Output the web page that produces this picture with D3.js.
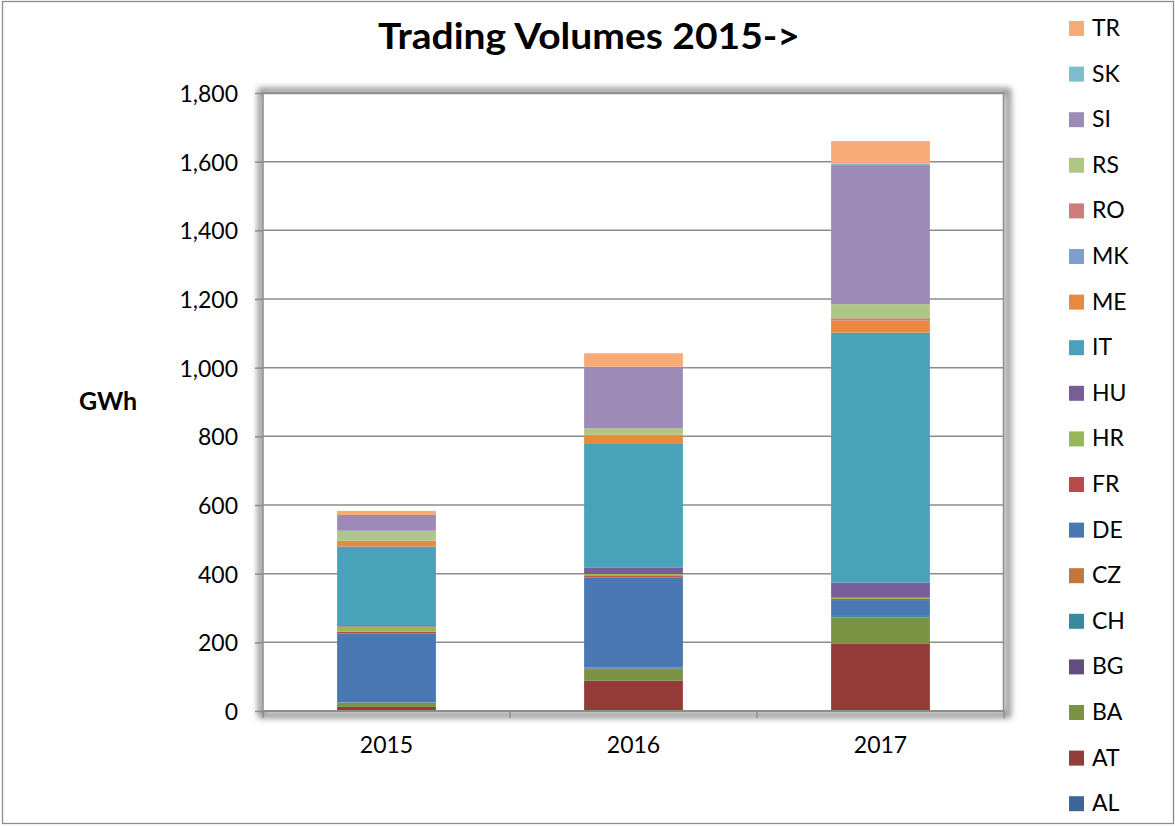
<!DOCTYPE html>
<html>
<head>
<meta charset="utf-8">
<script src="https://cdn.jsdelivr.net/npm/d3@7"></script>
<style>
    body { margin: 0; background: #fff; }
    svg text { font-family: Lato, "Open Sans", sans-serif; fill: #000; }
</style>
</head>
<body>
<svg id="chart"></svg>
<script>
// Categories and series
const years = ['2015', '2016', '2017'];
const countries = ['AL', 'AT', 'BA', 'BG', 'CH', 'CZ', 'DE', 'FR', 'HR', 'HU', 'IT', 'ME', 'MK', 'RO', 'RS', 'SI', 'SK', 'TR'];

// GWh per country, same order as countries
const vol2015 = [0, 12, 12, 0, 1, 0, 201, 5, 15, 4, 229, 17, 0, 0, 29, 46, 0, 12];
const vol2016 = [0, 88, 33, 3, 3, 0, 262, 4, 6, 18, 363, 25, 0, 0, 18, 180, 0, 39];
const vol2017 = [0, 197, 75, 0, 5, 0, 46, 3, 4, 44, 728, 35, 0, 7, 41, 405, 5, 65];

const yTicks = [0, 200, 400, 600, 800, 1000, 1200, 1400, 1600, 1800];

const colors = ['#3e6597', '#953c3a', '#7a9342', '#634c7e', '#388a9e', '#c3763a',
    '#4a78b2', '#ba4a47', '#97b857', '#785e98', '#47a2ba', '#e8893d',
    '#7e9ecb', '#cc7d7c', '#aec785', '#9d8bb7', '#7ebdd0', '#f9ab77'];

class StackedBarChart {
    constructor(_config, _data) {
        this.config = {
            parentElement: _config.parentElement,
            containerWidth: _config.containerWidth || 1175,
            containerHeight: _config.containerHeight || 826,
            margin: _config.margin || {top: 93, right: 171, bottom: 115, left: 263}
        }
        this.data = _data;
        this.initVis();
    }

    initVis() {
        let vis = this;

        vis.width = vis.config.containerWidth - vis.config.margin.left - vis.config.margin.right;
        vis.height = vis.config.containerHeight - vis.config.margin.top - vis.config.margin.bottom;

        vis.xScale = d3.scaleBand()
            .domain(years)
            .range([0, vis.width])
            .paddingInner(0.6)
            .paddingOuter(0.3);

        vis.yScale = d3.scaleLinear()
            .domain([0, 1800])
            .range([vis.height, 0]);

        vis.colorScale = d3.scaleOrdinal()
            .domain(countries)
            .range(colors);

        vis.svg = d3.select(vis.config.parentElement)
            .attr('width', vis.config.containerWidth)
            .attr('height', vis.config.containerHeight);

        // Outer frame
        vis.svg.append('rect')
            .attr('x', 2.5)
            .attr('y', 1.5)
            .attr('width', vis.config.containerWidth - 4)
            .attr('height', vis.config.containerHeight - 4)
            .attr('fill', '#fff')
            .attr('stroke', '#8c8c8c')
            .attr('stroke-width', 1.3);

        // Soft shadow round the plot area
        let defs = vis.svg.append('defs');
        defs.append('filter')
            .attr('id', 'shadow')
            .attr('x', '-10%').attr('y', '-10%')
            .attr('width', '120%').attr('height', '120%')
            .append('feGaussianBlur')
            .attr('stdDeviation', 3);

        vis.chart = vis.svg.append('g')
            .attr('transform', `translate(${vis.config.margin.left},${vis.config.margin.top})`);

        vis.chart.append('rect')
            .attr('x', -2)
            .attr('y', -2)
            .attr('width', vis.width + 6)
            .attr('height', vis.height + 6)
            .attr('fill', 'none')
            .attr('stroke', '#8a8a8a')
            .attr('stroke-width', 6)
            .attr('filter', 'url(#shadow)');

        vis.chart.append('rect')
            .attr('width', vis.width)
            .attr('height', vis.height)
            .attr('fill', '#fff');

        vis.title = vis.svg.append('text')
            .attr('x', 589)
            .attr('y', 49)
            .attr('text-anchor', 'middle')
            .attr('font-size', 37)
            .attr('font-weight', 'bold')
            .attr('textLength', 422)
            .attr('lengthAdjust', 'spacingAndGlyphs')
            .text('Trading Volumes 2015->');

        vis.svg.append('text')
            .attr('x', 79)
            .attr('y', 410)
            .attr('font-size', 25)
            .attr('font-weight', 'bold')
            .text('GWh');

        vis.gridG = vis.chart.append('g').attr('class', 'grid');
        vis.barsG = vis.chart.append('g').attr('class', 'bars');
        vis.yAxisG = vis.chart.append('g').attr('class', 'axis y-axis');
        vis.xAxisG = vis.chart.append('g')
            .attr('class', 'axis x-axis')
            .attr('transform', `translate(0,${vis.height})`);
        vis.legendG = vis.svg.append('g')
            .attr('class', 'legend')
            .attr('transform', 'translate(1069,21)');

        vis.updateVis();
    }

    updateVis() {
        let vis = this;

        vis.stack = d3.stack()
            .keys(countries)
            .value((d, key) => d[key]);

        vis.series = vis.stack(vis.data);

        vis.renderVis();
    }

    renderVis() {
        let vis = this;

        // Gridlines
        vis.gridG.selectAll('.gridline')
            .data(yTicks.slice(1))
            .join('line')
            .attr('class', 'gridline')
            .attr('x1', 0)
            .attr('x2', vis.width)
            .attr('y1', d => vis.yScale(d))
            .attr('y2', d => vis.yScale(d))
            .attr('stroke', '#8c8c8c')
            .attr('stroke-width', 1.5);

        // Stacked bars
        vis.barsG.selectAll('.layer')
            .data(vis.series)
            .join('g')
            .attr('class', 'layer')
            .attr('fill', d => vis.colorScale(d.key))
            .selectAll('rect')
            .data(d => d)
            .join('rect')
            .attr('x', d => vis.xScale(d.data.year))
            .attr('width', vis.xScale.bandwidth())
            .attr('y', d => vis.yScale(d[1]))
            .attr('height', d => vis.yScale(d[0]) - vis.yScale(d[1]));

        // Plot area border (top and right)
        vis.chart.append('path')
            .attr('d', `M0,0.5H${vis.width - 0.5}V${vis.height}`)
            .attr('fill', 'none')
            .attr('stroke', '#8c8c8c')
            .attr('stroke-width', 1.5);

        // Y axis
        vis.yAxis = d3.axisLeft(vis.yScale)
            .tickValues(yTicks)
            .tickSize(8)
            .tickPadding(17)
            .tickFormat(d3.format(','));

        vis.yAxisG.call(vis.yAxis);
        vis.yAxisG.selectAll('line, path').attr('stroke', '#8c8c8c').attr('stroke-width', 1.5);
        vis.yAxisG.select('.domain').attr('d', `M0,0V${vis.height}`);
        vis.yAxisG.selectAll('text')
            .attr('font-size', 23)
            .attr('fill', '#000')
            .attr('dy', '0.37em')
            .style('font-family', 'Lato, sans-serif');

        // X axis, ticks between categories
        vis.xAxis = d3.axisBottom(vis.xScale)
            .tickSize(0)
            .tickPadding(26);

        vis.xAxisG.call(vis.xAxis);
        vis.xAxisG.select('.domain').attr('stroke', '#8c8c8c').attr('stroke-width', 2)
            .attr('d', `M0,0H${vis.width}`);
        vis.xAxisG.selectAll('text')
            .attr('font-size', 23)
            .attr('fill', '#000')
            .style('font-family', 'Lato, sans-serif');

        let step = vis.xScale.step();
        let bounds = years.map(y => vis.xScale(y) - step * vis.xScale.paddingOuter());
        bounds.push(vis.width);
        vis.xAxisG.selectAll('.sep')
            .data(bounds)
            .join('line')
            .attr('class', 'sep')
            .attr('x1', d => d)
            .attr('x2', d => d)
            .attr('y1', 0)
            .attr('y2', 7)
            .attr('stroke', '#8c8c8c')
            .attr('stroke-width', 1.5);

        // Legend, top of stack first
        let legendItems = countries.slice().reverse();
        let row = vis.legendG.selectAll('.legend-item')
            .data(legendItems)
            .join('g')
            .attr('class', 'legend-item')
            .attr('transform', (d, i) => `translate(0,${i * 45.6})`);

        row.append('rect')
            .attr('width', 15)
            .attr('height', 15)
            .attr('fill', d => vis.colorScale(d));

        row.append('text')
            .attr('x', 23)
            .attr('y', 15)
            .attr('font-size', 23)
            .text(d => d);
    }
}

// Build one row per year for d3.stack
const tableData = years.map((year, i) => {
    let row = {year: year};
    let vals = [vol2015, vol2016, vol2017][i];
    countries.forEach((c, j) => { row[c] = vals[j]; });
    return row;
});

let chart = new StackedBarChart({parentElement: '#chart'}, tableData);
</script>
</body>
</html>
